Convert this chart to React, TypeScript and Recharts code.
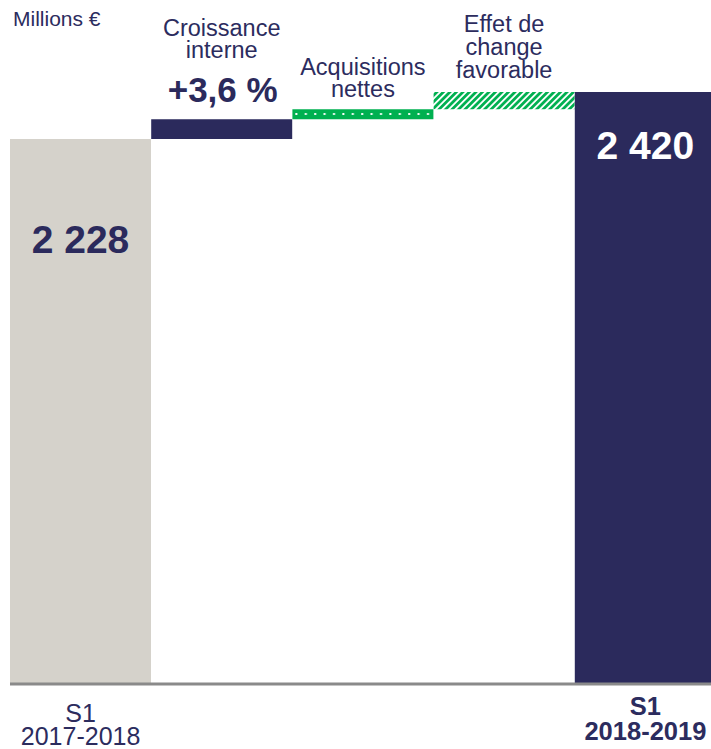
import React from 'react';
import { BarChart, Bar, XAxis, YAxis, Cell, LabelList } from 'recharts';

// Millions € — waterfall S1 2017-2018 -> S1 2018-2019
const categories = ['S1 2017-2018', 'Croissance interne', 'Acquisitions nettes', 'Effet de change favorable', 'S1 2018-2019'];
const baseValues = [0, 2228, 2308, 2349, 0];
const deltaValues = [2228, 80, 41, 71, 2420];
const headerLines = [[], ['Croissance', 'interne'], ['Acquisitions', 'nettes'], ['Effet de', 'change', 'favorable'], []];
const valueLabels = ['2 228', '+3,6 %', '', '', '2 420'];
const tickLines = [['S1', '2017-2018'], [], [], [], ['S1', '2018-2019']];

const NAVY = '#2b2a5c';
const GREY = '#d5d2cb';
const GREEN = '#00b050';
const TEXT = '#2c2c5e';
const FONT = '"Liberation Sans", Arial, sans-serif';

const fills = [GREY, NAVY, 'url(#dots)', 'url(#hatch)', NAVY];

const data = categories.map((name, i) => ({
  name,
  base: baseValues[i],
  delta: deltaValues[i],
}));

// offsets of header lines from the bar top
const headerOffsets: Record<number, number[]> = {
  1: [-83, -61.5],
  2: [-34, -12.5],
  3: [-60, -37, -14],
};

function BarLabel(props: any) {
  const { x, y, width, index } = props;
  const cx = Number(x) + Number(width) / 2;
  const top = Number(y);
  const lines = headerLines[index] || [];
  const offs = headerOffsets[index] || [];
  return (
    <g fontFamily={FONT}>
      {lines.map((l, j) => (
        <text key={j} x={cx} y={top + offs[j]} textAnchor="middle" fontSize={23.5} fill={TEXT}>
          {l}
        </text>
      ))}
      {index === 0 && (
        <text x={cx} y={top + 114} textAnchor="middle" fontSize={39} fontWeight="bold" fill={NAVY}>
          {valueLabels[0]}
        </text>
      )}
      {index === 1 && (
        <text x={cx + 1} y={top - 17} textAnchor="middle" fontSize={35} fontWeight="bold" fill={NAVY}>
          {valueLabels[1]}
        </text>
      )}
      {index === 4 && (
        <text x={cx} y={top + 67} textAnchor="middle" fontSize={39} fontWeight="bold" fill="#ffffff">
          {valueLabels[4]}
        </text>
      )}
    </g>
  );
}

function AxisTick(props: any) {
  const { x, y, index } = props;
  const lines = tickLines[index] || [];
  if (!lines.length) return null;
  const bold = index === 4;
  const offs = bold ? [31, 56] : [38, 61];
  return (
    <g fontFamily={FONT}>
      {lines.map((l, j) => (
        <text key={j} x={x} y={y + offs[j]} textAnchor="middle" fontSize={bold ? 25.5 : 25}
          fontWeight={bold ? 'bold' : 'normal'} fill={TEXT}>
          {l}
        </text>
      ))}
    </g>
  );
}

export default function App() {
  return (
    <div style={{ position: 'fixed', left: 0, top: 0, width: 711, height: 749, overflow: 'hidden', background: '#fff' }}>
      <BarChart width={716} height={749} data={data} margin={{ top: 10, right: 0, bottom: 35, left: 10 }}
        barCategoryGap={0} barGap={0}>
        <defs>
          <pattern id="dots" patternUnits="userSpaceOnUse" width={9.4} height={300}>
            <rect x={0} y={0} width={9.4} height={300} fill={GREEN} />
            <rect x={4} y={113} width={2} height={2} fill="#ffffff" />
          </pattern>
          <pattern id="hatch" patternUnits="userSpaceOnUse" width={4.6} height={4.6} patternTransform="rotate(45)">
            <rect x={0} y={0} width={2.8} height={4.6} fill={GREEN} />
          </pattern>
        </defs>
        <text x={13} y={26} fontFamily={FONT} fontSize={21} fill={TEXT}>Millions €</text>
        <YAxis hide domain={[0, 2755]} allowDataOverflow />
        <XAxis dataKey="name" interval={0} tickLine={false} tickSize={0} tickMargin={0} height={30}
          axisLine={{ stroke: '#8a8a8a', strokeWidth: 3 }} tick={<AxisTick />} />
        <Bar dataKey="base" stackId="w" fill="transparent" isAnimationActive={false} />
        <Bar dataKey="delta" stackId="w" isAnimationActive={false}>
          {data.map((d, i) => (
            <Cell key={d.name} fill={fills[i]} />
          ))}
          <LabelList dataKey="delta" content={<BarLabel />} />
        </Bar>
      </BarChart>
    </div>
  );
}
